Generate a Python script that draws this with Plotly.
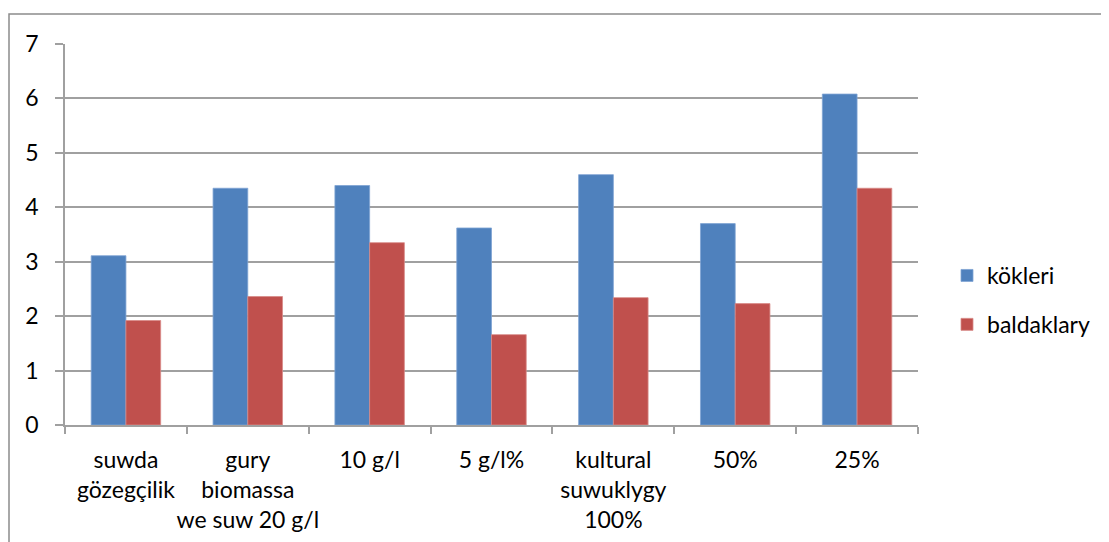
import plotly.graph_objects as go

categories = ["suwda<br>gözegçilik", "gury<br>biomassa<br>we suw 20 g/l", "10 g/l", "5 g/l%",
              "kultural<br>suwuklygy<br>100%", "50%", "25%"]
kokleri = [3.11, 4.35, 4.40, 3.62, 4.60, 3.70, 6.08]
baldaklary = [1.92, 2.36, 3.35, 1.66, 2.34, 2.23, 4.35]

FONT = "Lato"
fig = go.Figure()
fig.add_trace(go.Bar(x=categories, y=kokleri, name="kökleri", legendgroup="a",
                     marker=dict(color="#4F81BD", line=dict(color="#7FA3D3", width=0.8))))
fig.add_trace(go.Bar(x=categories, y=baldaklary, name="baldaklary", legendgroup="b",
                     marker=dict(color="#C0504D", line=dict(color="#D88A88", width=0.8))))

OFFX, OFFY = 8, 7  # page body margin compensation
L, R, T, B = 65 - OFFX, 918 - OFFX, 43 - OFFY, 424 - OFFY
W, H = 1109, 542
pw, ph = R - L, B - T

fig.update_layout(
    width=W, height=H,
    margin=dict(l=L, r=W - R, t=T, b=H - B, autoexpand=False),
    paper_bgcolor="white", plot_bgcolor="white",
    barmode="group", bargap=0.43, bargroupgap=0,
    font=dict(family=FONT, size=23, color="black"),
    legend=dict(x=(947 - OFFX - L) / pw, y=(B - (253 - OFFY)) / ph, xanchor="left", yanchor="top",
                font=dict(size=23), tracegroupgap=16, itemwidth=30,
                bgcolor="rgba(0,0,0,0)"),
    xaxis=dict(showline=True, linecolor="#a0a0a0", linewidth=1.5,
               ticks="outside", tickson="boundaries", ticklen=7, tickcolor="#a0a0a0",
               tickwidth=1.5, tickfont=dict(size=23), showgrid=False, tickangle=0,
               ticklabelstandoff=14),
    yaxis=dict(range=[0, 7], dtick=1, showline=True, linecolor="#a0a0a0", linewidth=1.5,
               ticks="outside", ticklen=8, tickcolor="#a0a0a0", tickwidth=1.5,
               gridcolor="#a0a0a0", gridwidth=1.5, tickfont=dict(size=23),
               zeroline=False, ticklabelstandoff=12),
    shapes=[dict(type="rect", xref="paper", yref="paper",
                 x0=(9 - OFFX - L) / pw, x1=(1130 - L) / pw,
                 y0=(B - 570) / ph, y1=(B - (13 - OFFY)) / ph,
                 line=dict(color="#8c8c8c", width=1.5), fillcolor="rgba(0,0,0,0)",
                 layer="below")],
)
fig.write_html("out.html")
